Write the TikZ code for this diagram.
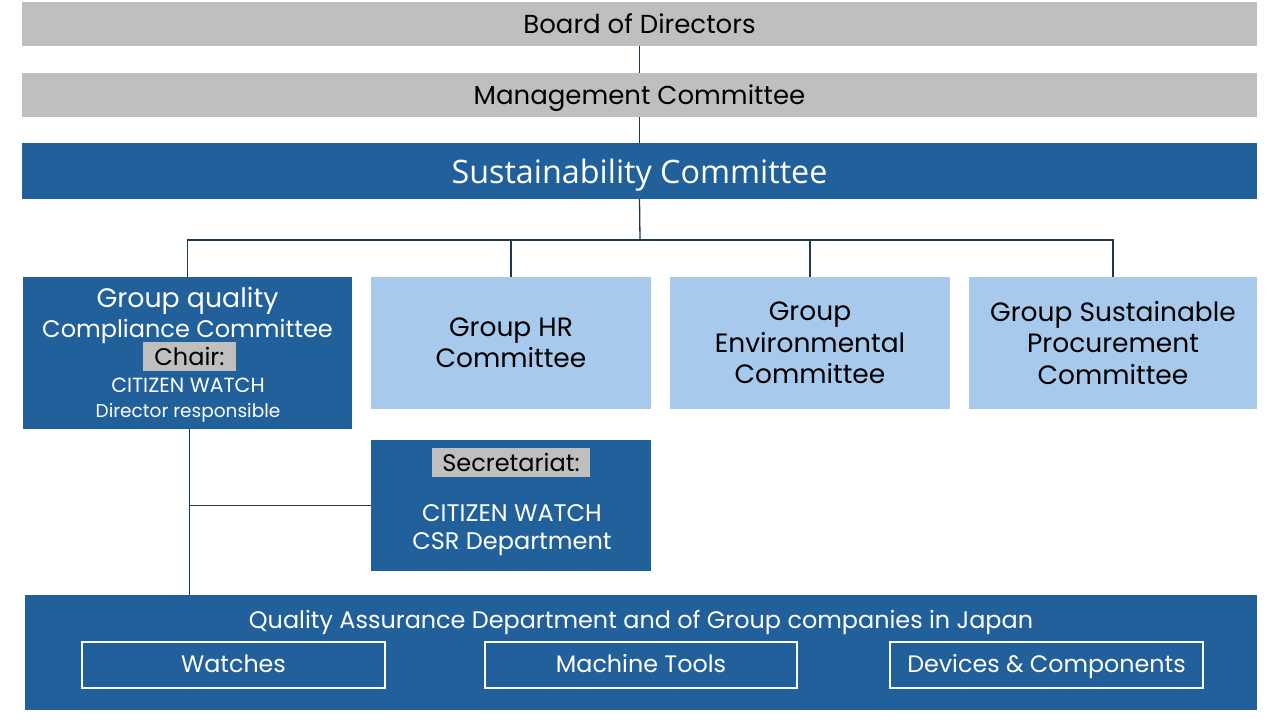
\documentclass[tikz,border=0pt]{standalone}
\usepackage{fontspec}
\setmainfont{Poppins}
\newfontfamily\opensans{Open Sans}
\definecolor{boardgray}{HTML}{BFBFBF}
\definecolor{darkblue}{HTML}{21609B}
\definecolor{lightblue}{HTML}{A7C9EB}
\definecolor{linecol}{HTML}{1B3A4C}
\tikzset{
  box/.style={inner sep=0pt, outer sep=0pt},
  graybox/.style={box, fill=boardgray, minimum width=1235pt, minimum height=44pt, font=\fontsize{26}{30}\selectfont},
  darkbox/.style={box, fill=darkblue, text=white},
  lightbox/.style={box, fill=lightblue, minimum width=280pt, minimum height=132pt, align=center, font=\fontsize{26.5}{31.5}\selectfont},
  tag/.style={box, fill=boardgray, text=black, font=\fontsize{24}{28}\selectfont},
  subbox/.style={box, draw=white, line width=2pt, minimum height=46pt, text height=17pt, text depth=2pt, text=white, font=\fontsize{23.8}{28}\selectfont},
  conn/.style={draw=linecol, line width=1.3pt}
}
\begin{document}
\begin{tikzpicture}[x=1pt,y=-1pt]
\useasboundingbox (0,0) rectangle (1280,720);
% top of the chart
\node[graybox] (board) at (639.5,23.5) {Board of Directors};
\node[graybox, text height=18pt, text depth=0pt] (mgmt) at (639.5,95) {Management Committee};
\node[darkbox, minimum width=1235pt, minimum height=56pt, text height=24pt, text depth=0pt, font=\opensans\fontsize{32.3}{36}\selectfont] (sust) at (639.5,171) {Sustainability Committee};
% committees
\node[darkbox, minimum width=329pt, minimum height=152pt] (grpq) at (187.5,353) {};
\node[text=white, align=center, font=\fontsize{24}{30}\selectfont] (grpqtitle) at (187.5,315.5) {{\fontsize{26.8}{30}\selectfont Group quality}\\Compliance Committee};
\node[tag, minimum width=93pt, minimum height=29pt] (chair) at (189.5,356.5) {Chair:};
\node[text=white, align=center, font=\fontsize{18.5}{25}\selectfont] (chairname) at (188,400.5) {{\fontsize{20.5}{25}\selectfont CITIZEN WATCH}\\Director responsible};
\node[lightbox] (hr) at (511,343) {Group HR\\Committee};
\node[lightbox] (env) at (810,343) {Group\\Environmental\\Committee};
\node[lightbox, minimum width=288pt] (proc) at (1113,343) {Group Sustainable\\Procurement\\Committee};
% secretariat
\node[darkbox, minimum width=280pt, minimum height=131pt] (sec) at (511,505.5) {};
\node[tag, minimum width=158pt, minimum height=29pt] (sectag) at (511,462.5) {Secretariat:};
\node[text=white, align=center, font=\fontsize{24}{28}\selectfont] (secname) at (512,530) {CITIZEN WATCH\\CSR Department};
% quality assurance
\node[darkbox, minimum width=1232pt, minimum height=115pt] (qa) at (641,652.5) {};
\node[text=white, font=\fontsize{23.9}{28}\selectfont] (qatitle) at (641,622) {Quality Assurance Department and of Group companies in Japan};
\node[subbox, minimum width=303pt] (watches) at (233.5,665) {Watches};
\node[subbox, minimum width=312pt] (tools) at (641,665) {Machine Tools};
\node[subbox, minimum width=313pt] (devices) at (1046.5,665) {Devices \& Components};
% connectors
\coordinate (bus) at (640,240);
\draw[conn] (board.south) -- (mgmt.north);
\draw[conn] (mgmt.south) -- (sust.north);
\draw[conn] (sust.south) -- (bus);
\draw[conn] (grpq.north) |- (bus) -| (proc.north);
\draw[conn] (hr.north) -- (hr.north |- bus);
\draw[conn] (env.north) -- (env.north |- bus);
\draw[conn] ([xshift=2pt]grpq.south) -- ([xshift=2pt]grpq.south |- qa.north);
\draw[conn] (sec.west) -- ([xshift=2pt]sec.west -| grpq.south);
\end{tikzpicture}
\end{document}
